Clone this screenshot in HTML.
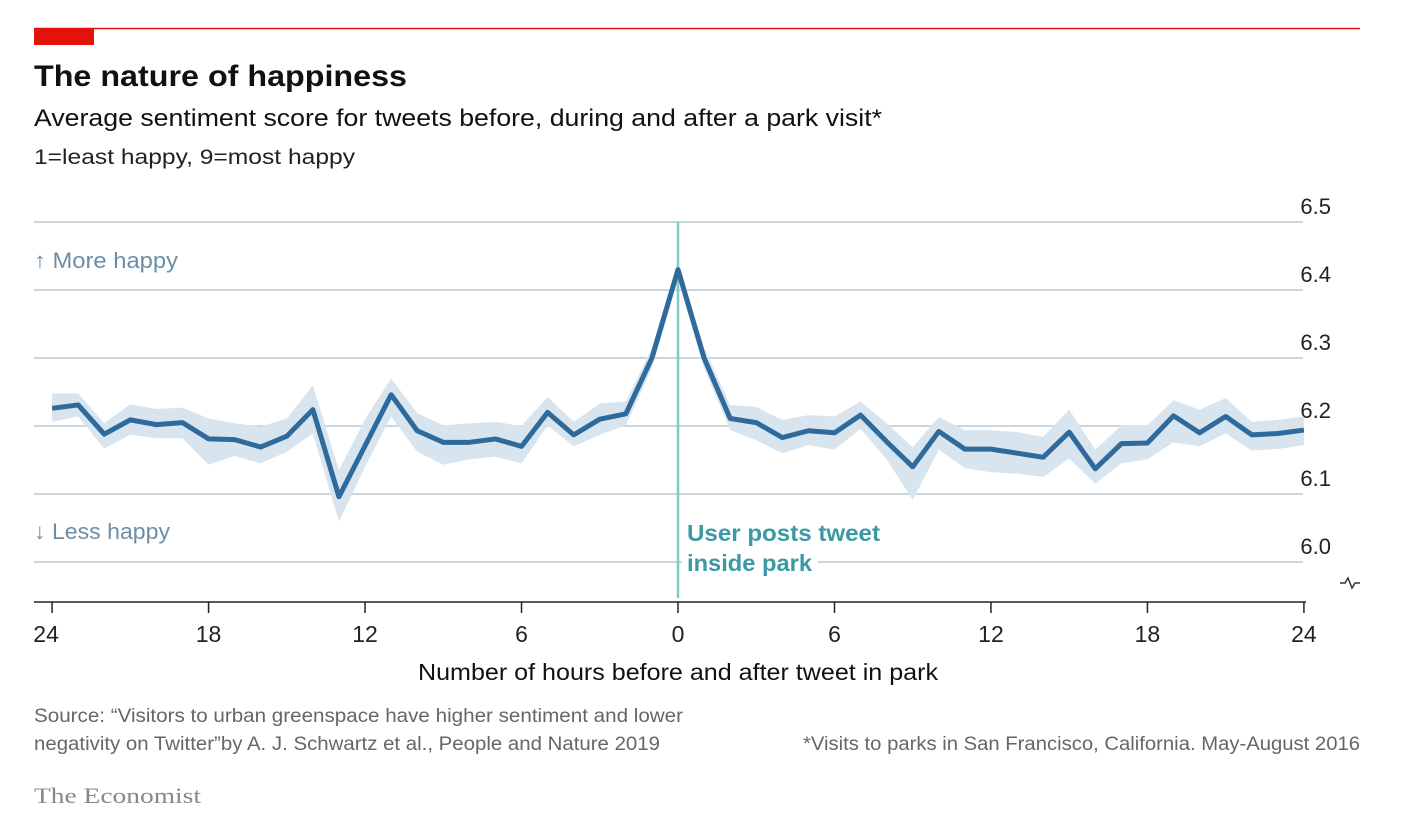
<!DOCTYPE html>
<html><head><meta charset="utf-8"><style>
body{margin:0;background:#fff;width:1406px;height:834px;overflow:hidden;font-family:"Liberation Sans",sans-serif}
svg{display:block}
</style></head><body>
<svg width="1406" height="834">
<rect x="34" y="28" width="60" height="17" fill="#e3120b"/>
<line x1="34" y1="28.5" x2="1360" y2="28.5" stroke="#e3120b" stroke-width="1.5"/>
<text x="34" y="86" font-size="30" font-weight="bold" fill="#111" textLength="373" lengthAdjust="spacingAndGlyphs">The nature of happiness</text>
<text x="34" y="126" font-size="24" fill="#111" textLength="848" lengthAdjust="spacingAndGlyphs">Average sentiment score for tweets before, during and after a park visit*</text>
<text x="34" y="164" font-size="21" fill="#222" textLength="321" lengthAdjust="spacingAndGlyphs">1=least happy, 9=most happy</text>
<g id="grid"></g>
<g id="band"></g>
<line x1="678" y1="222" x2="678" y2="598" stroke="#7fcbc4" stroke-width="2.5"/>
<path id="line" fill="none" stroke="#2e6a9b" stroke-width="5" stroke-linejoin="round"/>
<text x="34" y="268" font-size="22" fill="#6b8ea8" textLength="144" lengthAdjust="spacingAndGlyphs">↑ More happy</text>
<text x="34" y="539" font-size="22" fill="#6b8ea8" textLength="136" lengthAdjust="spacingAndGlyphs">↓ Less happy</text>
<rect x="682" y="518" width="136" height="60" fill="#fff"/>
<text x="687" y="541" font-size="23" font-weight="bold" fill="#3a9aa3" textLength="193" lengthAdjust="spacingAndGlyphs">User posts tweet</text>
<text x="687" y="571" font-size="23" font-weight="bold" fill="#3a9aa3" textLength="125" lengthAdjust="spacingAndGlyphs">inside park</text>
<line x1="34" y1="602" x2="1306" y2="602" stroke="#222" stroke-width="1.5"/>
<g id="xticks"></g>
<path d="M1340 583 l5 0 l3 -5 l4 10 l3 -5 l5 0" fill="none" stroke="#333" stroke-width="1.5"/>
<text x="418" y="680" font-size="23" fill="#111" textLength="520" lengthAdjust="spacingAndGlyphs">Number of hours before and after tweet in park</text>
<text x="34" y="722" font-size="19" fill="#666" textLength="649" lengthAdjust="spacingAndGlyphs">Source: “Visitors to urban greenspace have higher sentiment and lower</text>
<text x="34" y="750" font-size="19" fill="#666" textLength="626" lengthAdjust="spacingAndGlyphs">negativity on Twitter”by A. J. Schwartz et al., People and Nature 2019</text>
<text x="803" y="750" font-size="19" fill="#666" textLength="557" lengthAdjust="spacingAndGlyphs">*Visits to parks in San Francisco, California. May-August 2016</text>
<text x="34" y="803" font-size="22" fill="#888" font-family="Liberation Serif,serif" textLength="167" lengthAdjust="spacingAndGlyphs">The Economist</text>
</svg>
<script>
const hours=[-24,-23,-22,-21,-20,-19,-18,-17,-16,-15,-14,-13,-12,-11,-10,-9,-8,-7,-6,-5,-4,-3,-2,-1,0,1,2,3,4,5,6,7,8,9,10,11,12,13,14,15,16,17,18,19,20,21,22,23,24];
const values=[6.226,6.231,6.188,6.209,6.202,6.205,6.181,6.180,6.169,6.185,6.224,6.096,6.171,6.246,6.193,6.176,6.176,6.181,6.170,6.220,6.187,6.210,6.218,6.300,6.430,6.300,6.211,6.205,6.183,6.193,6.190,6.216,6.177,6.140,6.192,6.166,6.166,6.160,6.154,6.191,6.137,6.174,6.175,6.215,6.190,6.214,6.187,6.189,6.194];
const upper=[6.248,6.248,6.204,6.232,6.225,6.227,6.211,6.204,6.199,6.211,6.260,6.135,6.210,6.270,6.219,6.201,6.204,6.206,6.200,6.243,6.206,6.233,6.236,6.315,6.440,6.315,6.231,6.228,6.209,6.216,6.214,6.236,6.204,6.169,6.213,6.194,6.194,6.191,6.184,6.224,6.165,6.201,6.201,6.238,6.224,6.241,6.206,6.209,6.214];
const lower=[6.206,6.214,6.167,6.187,6.182,6.182,6.143,6.156,6.145,6.162,6.189,6.059,6.140,6.214,6.162,6.143,6.151,6.155,6.145,6.201,6.170,6.187,6.201,6.285,6.415,6.285,6.194,6.179,6.160,6.172,6.165,6.196,6.151,6.091,6.165,6.138,6.132,6.130,6.125,6.152,6.115,6.145,6.151,6.176,6.170,6.189,6.164,6.166,6.172];
const yTicks=[6.5,6.4,6.3,6.2,6.1,6.0];
const xTicks=[-24,-18,-12,-6,0,6,12,18,24];
const NS='http://www.w3.org/2000/svg';
const X=h=>678+h*26.08;
const Y=v=>426-(v-6.2)*680;
const grid=document.getElementById('grid');
yTicks.forEach(t=>{
  const l=document.createElementNS(NS,'line');
  l.setAttribute('x1',34);l.setAttribute('x2',1303);
  l.setAttribute('y1',Y(t));l.setAttribute('y2',Y(t));
  l.setAttribute('stroke','#b9c8d4');l.setAttribute('stroke-width','1.5');
  
  
  grid.appendChild(l);
  const tx=document.createElementNS(NS,'text');
  tx.setAttribute('x',1331);tx.setAttribute('y',Y(t)-8);
  tx.setAttribute('text-anchor','end');tx.setAttribute('font-size','22');tx.setAttribute('fill','#222');
  tx.textContent=t.toFixed(1);
  
  
  grid.appendChild(tx);
});
let bp='M'+hours.map((h,i)=>X(h)+' '+Y(upper[i])).join(' L');
for(let i=hours.length-1;i>=0;i--) bp+=' L'+X(hours[i])+' '+Y(lower[i]);
const band=document.createElementNS(NS,'path');
band.setAttribute('d',bp+'Z');band.setAttribute('fill','#d9e5ee');


document.getElementById('band').appendChild(band);
document.getElementById('line').setAttribute('d','M'+hours.map((h,i)=>X(h)+' '+Y(values[i])).join(' L'));
const xt=document.getElementById('xticks');
xTicks.forEach(t=>{
  const l=document.createElementNS(NS,'line');
  l.setAttribute('x1',X(t));l.setAttribute('x2',X(t));l.setAttribute('y1',602);l.setAttribute('y2',613);
  l.setAttribute('stroke','#222');l.setAttribute('stroke-width','1.5');
  
  
  xt.appendChild(l);
  const tx=document.createElementNS(NS,'text');
  tx.setAttribute('x',X(t)-(t===-24?6:0));tx.setAttribute('y',642);
  tx.setAttribute('text-anchor','middle');tx.setAttribute('font-size','23');tx.setAttribute('fill','#222');
  tx.textContent=Math.abs(t);
  
  
  xt.appendChild(tx);
});
</script>
</body></html>
